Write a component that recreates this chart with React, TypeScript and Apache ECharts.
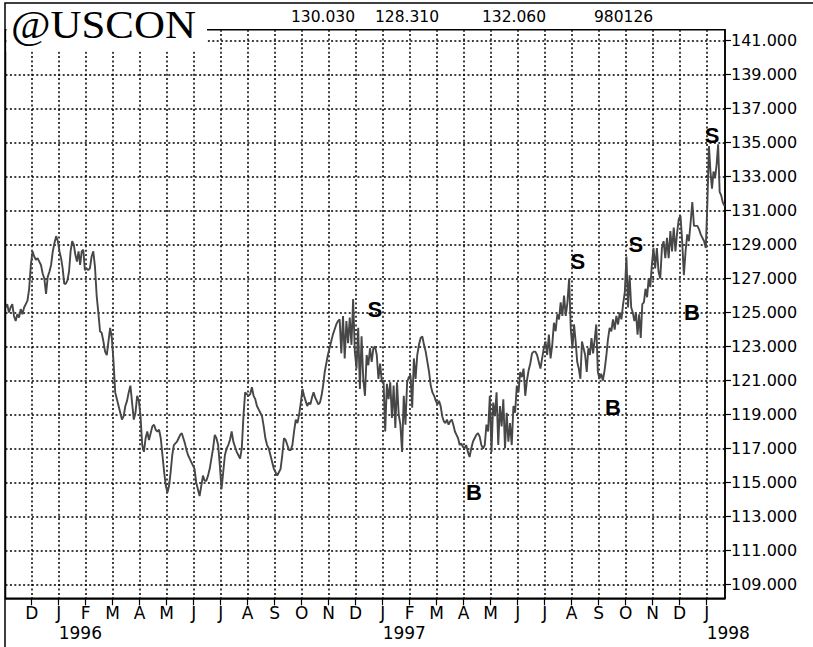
import React, { useEffect, useRef } from 'react';
import * as echarts from 'echarts';

// ---- Data ----
// Months covered by the series, Nov 1995 .. Jan 1998 (month 0 of the axis = Dec 1995)
const seriesMonths = [
  'Nov 1995', 'Dec 1995', 'Jan 1996', 'Feb 1996', 'Mar 1996', 'Apr 1996', 'May 1996',
  'Jun 1996', 'Jul 1996', 'Aug 1996', 'Sep 1996', 'Oct 1996', 'Nov 1996', 'Dec 1996',
  'Jan 1997', 'Feb 1997', 'Mar 1997', 'Apr 1997', 'May 1997', 'Jun 1997', 'Jul 1997',
  'Aug 1997', 'Sep 1997', 'Oct 1997', 'Nov 1997', 'Dec 1997', 'Jan 1998',
];

// price samples within each month (about every trading day and a half)
const pricesByMonth: number[][] = [
  [125.3, 125.5, 125.0, 125.3, 125.5, 124.8, 124.5, 124.9, 124.7, 125.2, 124.9, 125.3, 125.5, 125.7, 126.4, 127.8],
  [128.6, 128.3, 128.1, 128.2, 128.0, 127.8, 127.3, 127.0, 126.1, 127.1, 127.4, 127.8, 128.6, 129.1, 129.5, 129.2],
  [128.6, 128.2, 127.6, 126.7, 126.7, 126.9, 127.4, 128.6, 129.2, 129.0, 128.4, 128.0, 128.6, 127.8, 128.6, 128.7, 127.5],
  [127.6, 127.5, 127.6, 128.3, 128.6, 127.7, 126.0, 125.0, 123.9, 123.8, 123.3, 122.7, 122.5, 123.3, 124.1, 123.5],
  [122.1, 120.3, 119.9, 119.5, 119.1, 118.7, 118.9, 119.5, 119.8, 120.3, 120.7, 119.7, 118.7, 119.1, 120.1, 119.8],
  [118.9, 117.2, 116.8, 117.6, 118.0, 117.5, 117.9, 118.3, 118.4, 118.1, 118.0, 118.1, 117.6, 116.6, 115.6, 114.8],
  [114.4, 114.8, 115.6, 116.6, 117.2, 117.3, 117.4, 117.6, 117.8, 117.9, 117.6, 117.3, 116.9, 116.6, 116.4, 116.2, 116.0],
  [115.8, 115.0, 114.6, 114.2, 114.8, 115.4, 115.1, 115.1, 115.4, 115.8, 116.4, 117.0, 117.8, 117.6, 117.2, 116.0],
  [114.6, 115.6, 116.6, 117.0, 117.2, 117.5, 118.0, 117.4, 117.1, 116.8, 116.6, 116.4, 117.0, 118.9, 120.3, 120.2],
  [120.1, 120.2, 120.6, 120.1, 119.9, 119.5, 119.3, 119.1, 118.9, 118.3, 117.6, 117.2, 117.0, 116.6, 116.2, 115.8],
  [115.6, 115.4, 115.6, 115.8, 116.6, 117.6, 117.5, 117.2, 116.9, 116.9, 117.2, 118.0, 118.7, 118.5, 119.0, 119.7],
  [120.5, 120.1, 119.8, 119.5, 119.7, 119.6, 120.0, 120.3, 120.0, 119.8, 119.6, 119.7, 120.1, 120.7, 121.5, 122.0, 122.5],
  [122.9, 123.3, 123.7, 124.0, 124.3, 124.5, 124.6, 122.6, 124.8, 122.3, 124.5, 123.2, 124.7, 123.1, 125.8, 122.7],
  [121.7, 124.1, 120.5, 123.6, 121.1, 120.1, 122.5, 121.9, 122.9, 122.1, 122.9, 123.0, 122.5, 121.1, 122.0, 120.9],
  [121.0, 118.0, 120.8, 119.9, 120.9, 118.8, 120.7, 118.2, 120.9, 119.0, 118.4, 116.8, 120.1, 118.4, 120.9, 121.2],
  [121.3, 119.4, 122.3, 121.1, 122.5, 123.1, 123.5, 123.6, 123.1, 122.7, 122.1, 121.5, 120.7, 120.3, 120.1, 119.8],
  [119.6, 119.8, 119.5, 118.9, 118.6, 118.5, 118.7, 118.4, 118.6, 118.7, 118.4, 118.0, 117.8, 117.6, 117.2, 117.3, 117.1],
  [117.0, 117.2, 116.8, 116.5, 117.0, 117.4, 117.6, 117.8, 117.9, 117.7, 117.2, 117.0, 117.2, 118.4, 118.0, 120.1],
  [116.8, 119.7, 118.9, 120.3, 117.2, 119.5, 118.3, 119.9, 117.0, 119.1, 117.4, 118.5, 117.2, 119.5, 119.1, 120.7],
  [120.3, 121.5, 121.2, 121.7, 120.1, 121.0, 121.6, 122.0, 122.6, 122.7, 122.7, 122.5, 122.1, 121.7, 122.3, 122.9],
  [123.3, 122.5, 123.7, 122.3, 123.1, 124.4, 123.9, 124.9, 124.6, 125.6, 124.8, 126.0, 124.8, 125.6, 127.0, 124.0],
  [122.9, 124.3, 123.3, 122.1, 121.7, 121.1, 123.3, 122.9, 122.5, 121.5, 122.9, 122.5, 123.5, 122.6, 123.4, 124.3, 121.5],
  [121.1, 121.4, 121.0, 121.6, 122.4, 123.4, 124.1, 123.9, 124.6, 124.0, 124.8, 124.3, 125.0, 124.6, 125.5, 126.2],
  [128.3, 125.3, 127.2, 125.3, 125.0, 124.5, 125.0, 123.7, 124.9, 123.5, 125.5, 125.6, 126.4, 125.9, 127.0, 126.5, 127.8],
  [128.8, 127.6, 128.8, 127.4, 127.0, 128.8, 129.2, 128.2, 129.4, 128.2, 129.8, 128.6, 130.0, 128.6, 129.7, 130.5],
  [130.7, 129.2, 127.2, 128.6, 129.6, 129.2, 130.3, 131.5, 130.1, 130.1, 130.1, 129.9, 129.6, 129.4, 129.2, 128.8],
  [131.5, 134.8, 133.3, 132.3, 133.3, 132.9, 133.7, 134.9, 132.1, 131.9, 131.5, 131.3],
];
// the series stops on 26 Jan 1998: share of that last month covered by data
const lastMonthCoverage = 0.68;

// Buy / sell signal letters: month position (0 = Dec 1995) and price level
const signalLetters = ['S', 'B', 'S', 'B', 'S', 'B', 'S'];
const signalMonths = [12.71, 16.38, 20.23, 21.53, 22.38, 24.46, 25.2];
const signalPrices = [125.2, 114.4, 128.0, 119.4, 129.0, 125.0, 135.4];

// axis ticks
const monthLetters = ['J', 'F', 'M', 'A', 'M', 'J', 'J', 'A', 'S', 'O', 'N', 'D'];
const monthTicks = [0, 1, 2, 3, 4, 5, 6, 7, 8, 9, 10, 11, 12, 13, 14, 15, 16, 17, 18, 19, 20, 21, 22, 23, 24, 25];
const yearTicks = [1, 13, 25];
const yearLabels = ['1996', '1997', '1998'];
const priceTicks = [109, 111, 113, 115, 117, 119, 121, 123, 125, 127, 129, 131, 133, 135, 137, 139, 141];

// header texts
const symbolName = '@USCON';
const headerValues = ['130.030', '128.310', '132.060', '980126'];

const X_MIN = -0.97; // ~ 3 Nov 1995
const X_MAX = 25.68; // ~ 26 Jan 1998
const Y_MIN = 108.18;
const Y_MAX = 141.65;

const LABEL_FONT = 'DejaVu Sans';

export default function App() {
  const ref = useRef<HTMLDivElement>(null);

  useEffect(() => {
    if (!ref.current) return;
    const chart = echarts.init(ref.current, undefined, { renderer: 'svg' });

    const points: [number, number][] = [];
    pricesByMonth.forEach((vals, j) => {
      const cover = j === pricesByMonth.length - 1 ? lastMonthCoverage : 1;
      vals.forEach((v, i) => {
        points.push([j - 1 + ((i + 0.5) * cover) / vals.length, v]);
      });
    });

    const signals = signalLetters.map((s, i) => [signalMonths[i], signalPrices[i], i]);

    const dotted = { type: [2, 2.4] as number[], color: '#000', width: 1.5 };

    const headerX = [291, 375, 482, 594];

    chart.setOption({
      animation: false,
      backgroundColor: '#fff',
      grid: {
        left: 5.5,
        right: 88,
        top: 29.7,
        bottom: 48.7,
        show: true,
        borderColor: '#000',
        borderWidth: 1.5,
        backgroundColor: 'transparent',
      },
      xAxis: [
        {
          type: 'value',
          min: X_MIN,
          max: X_MAX,
          axisLine: { show: true, onZero: false, lineStyle: { color: '#000', width: 1.5 } },
          axisTick: { show: true, customValues: monthTicks, length: 7, lineStyle: { color: '#000', width: 1.2 } },
          axisLabel: {
            customValues: monthTicks,
            formatter: (v: number) => monthLetters[(Math.round(v) + 11) % 12],
            fontFamily: LABEL_FONT,
            fontSize: 17,
            color: '#000',
            margin: 6,
          },
          splitLine: { show: true, lineStyle: dotted },
        },
        {
          type: 'value',
          position: 'bottom',
          offset: 19,
          min: X_MIN,
          max: X_MAX,
          axisLine: { show: false, onZero: false },
          axisTick: { show: false },
          splitLine: { show: false },
          axisLabel: {
            customValues: yearTicks,
            formatter: (v: number) => yearLabels[yearTicks.indexOf(Math.round(v))] ?? '',
            fontFamily: LABEL_FONT,
            fontSize: 17,
            color: '#000',
            align: 'left',
            margin: 7,
          },
        },
      ],
      yAxis: {
        type: 'value',
        position: 'right',
        min: Y_MIN,
        max: Y_MAX,
        axisLine: { show: true, onZero: false, lineStyle: { color: '#000', width: 1.5 } },
        axisTick: { show: true, customValues: priceTicks, length: 6, lineStyle: { color: '#000', width: 1.2 } },
        axisLabel: {
          customValues: priceTicks,
          formatter: (v: number) => v.toFixed(3),
          fontFamily: LABEL_FONT,
          fontSize: 16,
          color: '#000',
          margin: 6,
        },
        splitLine: { show: true, lineStyle: dotted },
      },
      series: [
        {
          type: 'line',
          data: points,
          showSymbol: false,
          symbol: 'none',
          clip: true,
          lineStyle: { color: '#474747', width: 1.9 },
          z: 3,
        },
        {
          type: 'custom',
          data: signals,
          z: 4,
          renderItem: (params: any, api: any) => {
            const pt = api.coord([api.value(0), api.value(1)]);
            const idx = api.value(2);
            return {
              type: 'text',
              x: pt[0],
              y: pt[1],
              style: {
                text: signalLetters[idx],
                fontFamily: 'Liberation Sans',
                fontWeight: 'bold',
                fontSize: 22,
                fill: '#000',
                textAlign: 'center',
                textVerticalAlign: 'middle',
              },
            };
          },
        },
      ],
      graphic: [
        {
          type: 'rect',
          z: 100,
          shape: { x: 6.5, y: 4.5, width: 200.5, height: 47 },
          style: { fill: '#fff' },
        },
        {
          type: 'rect',
          z: 101,
          shape: { x: 5, y: 3, width: 900, height: 800 },
          style: { fill: 'none', stroke: '#000', lineWidth: 1.5 },
        },
        {
          type: 'text',
          z: 102,
          x: 11,
          y: 25,
          scaleX: 1.1,
          style: {
            text: symbolName,
            fontFamily: 'Liberation Serif',
            fontSize: 39,
            fill: '#000',
            textAlign: 'left',
            textVerticalAlign: 'middle',
          },
        },
        ...headerValues.map((t, i) => ({
          type: 'text',
          z: 102,
          x: headerX[i],
          y: 16.5,
          style: {
            text: t,
            fontFamily: LABEL_FONT,
            fontSize: 15.5,
            fill: '#000',
            textAlign: 'left',
            textVerticalAlign: 'middle',
          },
        })),
      ],
    });

    return () => {
      chart.dispose();
    };
  }, []);

  return <div ref={ref} style={{ width: 813, height: 647, position: 'absolute', left: 0, top: 0 }} />;
}
